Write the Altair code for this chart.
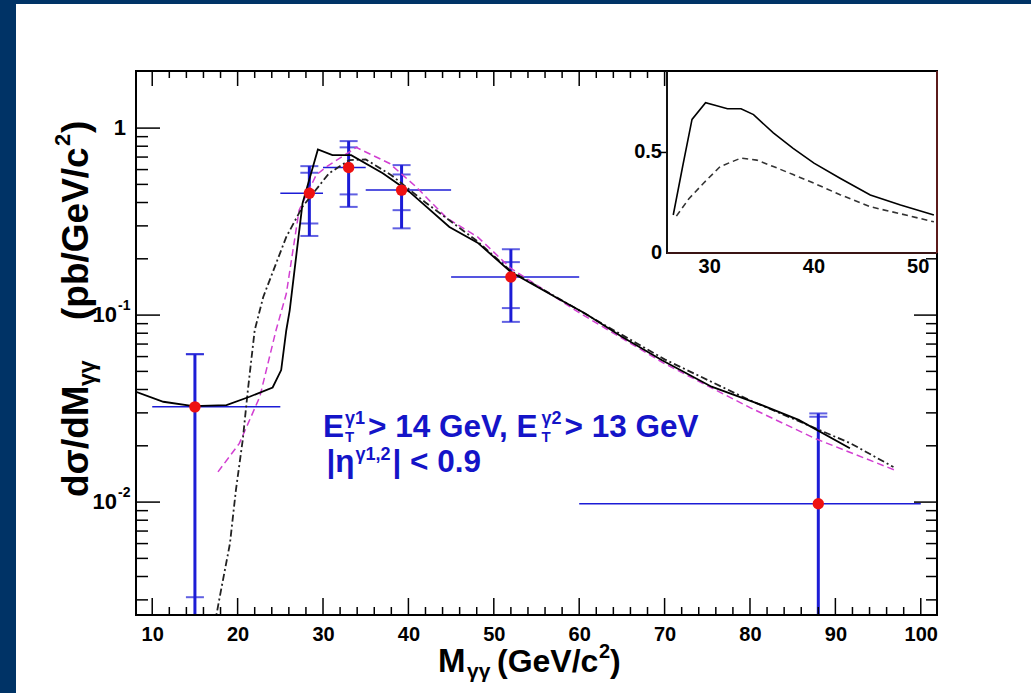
import altair as alt
import pandas as pd

# ---------------- data ----------------
pt_x = [15.0, 28.4, 33.0, 39.2, 52.0, 88.0]
pt_y = [0.0323, 0.448, 0.616, 0.466, 0.160, 0.0098]
bin_lo = [10.0, 25.0, 30.0, 35.0, 45.0, 60.0]
bin_hi = [25.0, 30.0, 35.0, 45.0, 60.0, 100.0]
tot_lo = [0.0015, 0.265, 0.379, 0.291, 0.092, 0.0015]
tot_hi = [0.0618, 0.626, 0.852, 0.634, 0.225, 0.0298]
stat_lo = [0.0031, 0.309, 0.442, 0.364, 0.109, 0.0015]
stat_hi = [0.0618, 0.577, 0.789, 0.565, 0.192, 0.0286]

nlo_x = [8.1, 11.3, 14.8, 18.7, 21.4, 24.1, 25.1, 25.7, 26.1, 27.6, 29.4, 31.1, 33.3,
         37.0, 40.1, 44.8, 48.1, 52.0, 57.2, 60.7, 65.0, 69.7, 75.5, 81.4, 85.7, 91.7]
nlo_y = [0.0389, 0.0344, 0.0326, 0.033, 0.0366, 0.041, 0.0508, 0.083, 0.106, 0.396, 0.769,
         0.717, 0.717, 0.573, 0.457, 0.296, 0.244, 0.170, 0.125, 0.102, 0.0766, 0.0574,
         0.0414, 0.0330, 0.0275, 0.0194]

mag_x = [17.7, 20.2, 22.6, 24.5, 25.7, 27.2, 29.2, 30.4, 33.9, 37.8, 40.9, 44.5, 48.1,
         52.0, 60.0, 70.0, 80.0, 87.6, 97.0]
mag_y = [0.0145, 0.0206, 0.0366, 0.083, 0.130, 0.364, 0.561, 0.621, 0.788, 0.647, 0.485,
         0.33, 0.262, 0.178, 0.103, 0.055, 0.032, 0.0219, 0.0148]

dd_x = [17.3, 17.9, 19.1, 19.8, 20.6, 21.2, 22.0, 23.0, 25.7, 27.6, 30.7, 33.1, 35.0,
        38.0, 42.0, 48.0, 52.0, 60.0, 70.0, 80.0, 91.8, 96.8]
dd_y = [0.0022, 0.0031, 0.006, 0.0116, 0.0215, 0.0397, 0.083, 0.125, 0.262, 0.38, 0.573,
        0.675, 0.68, 0.56, 0.40, 0.25, 0.172, 0.106, 0.058, 0.035, 0.0206, 0.0154]

ins_sol_x = [26.5, 27.4, 28.3, 29.6, 30.5, 31.7, 33.0, 34.2, 36.1, 38.0, 40.0, 42.5, 45.4, 48.3, 51.5]
ins_sol_y = [0.189, 0.43, 0.664, 0.747, 0.735, 0.717, 0.717, 0.688, 0.597, 0.52, 0.447,
             0.372, 0.2885, 0.2385, 0.1885]
ins_dash_x = [26.8, 28.0, 29.4, 31.0, 33.0, 34.5, 36.1, 38.0, 40.0, 42.5, 45.4, 48.3, 51.5]
ins_dash_y = [0.1835, 0.27, 0.347, 0.43, 0.472, 0.462, 0.43, 0.39, 0.347, 0.29, 0.23, 0.195, 0.155]

x_major = [10, 20, 30, 40, 50, 60, 70, 80, 90, 100]
x_minor = [12, 14, 16, 18, 22, 24, 26, 28, 32, 34, 36, 38, 42, 44, 46, 48, 52, 54, 56, 58,
           62, 64, 66, 68, 72, 74, 76, 78, 82, 84, 86, 88, 92, 94, 96, 98]
y_major = [0.01, 0.1, 1.0]
y_minor = [0.003, 0.004, 0.005, 0.006, 0.007, 0.008, 0.009,
           0.02, 0.03, 0.04, 0.05, 0.06, 0.07, 0.08, 0.09,
           0.2, 0.3, 0.4, 0.5, 0.6, 0.7, 0.8, 0.9]
y_lab_one = [1.0]
y_lab_pow = [0.1, 0.01]
y_lab_exp = ["-1", "-2"]
ins_x_ticks = [30, 40, 50]
ins_y_ticks = [0, 0.5]
ins_y_labels = ["0", "0.5"]

# ---------------- layout / style ----------------
W, H = 801, 544
PADL, PADT = 136, 71
FONT = "Liberation Sans"
BLUE = "#1c1cd6"
TXT = "#1414c8"
RED = "#ee1111"
X_DOM = [8.1, 101.9]
Y_DOM = [0.00249, 2.02]

xs = alt.Scale(domain=X_DOM, nice=False, zero=False)
ys = alt.Scale(type="log", domain=Y_DOM, nice=False)

x_axis = alt.Axis(values=x_major, format="d", labelFont=FONT, labelFontSize=20,
                  labelFontWeight="bold", labelColor="black", labelPadding=9,
                  ticks=False, domain=False, grid=False, title=None, zindex=1)


def X(f="x"):
    return alt.X(f"{f}:Q", scale=xs, axis=x_axis)


def Y(f="y"):
    return alt.Y(f"{f}:Q", scale=ys, axis=None)


one = pd.DataFrame({"a": [0]})
df_pts = pd.DataFrame({"x": pt_x, "y": pt_y, "xl": bin_lo, "xh": bin_hi,
                       "tl": tot_lo, "th": tot_hi, "sl": stat_lo, "sh": stat_hi})

bg = alt.Chart(one).mark_rect(color="white").encode(
    x=alt.value(16 - PADL), x2=alt.value(1031 - PADL), y=alt.value(4 - PADT),
    y2=alt.value(693 - PADT))

hbar = alt.Chart(df_pts).mark_rule(color=BLUE, strokeWidth=1.5, clip=True).encode(
    x=X("xl"), x2="xh:Q", y=Y("y"))
vbar = alt.Chart(df_pts).mark_rule(color=BLUE, strokeWidth=3, clip=True).encode(
    x=X("x"), y=Y("tl"), y2="th:Q")
caps = [alt.Chart(df_pts).mark_tick(orient="horizontal", size=18, thickness=2,
                                    color=BLUE, clip=True).encode(x=X("x"), y=Y(f))
        for f in ["tl", "th", "sl", "sh"]]

df_nlo = pd.DataFrame({"x": nlo_x, "y": nlo_y})
df_mag = pd.DataFrame({"x": mag_x, "y": mag_y})
df_dd = pd.DataFrame({"x": dd_x, "y": dd_y})

c_mag = alt.Chart(df_mag).mark_line(color="#d23fd2", strokeWidth=1.5, strokeDash=[7, 4],
                                    clip=True).encode(x=X(), y=Y())
c_dd = alt.Chart(df_dd).mark_line(color="#222222", strokeWidth=1.8, strokeDash=[7, 3, 2, 3],
                                  clip=True).encode(x=X(), y=Y())
c_nlo = alt.Chart(df_nlo).mark_line(color="black", strokeWidth=1.8, clip=True).encode(
    x=X(), y=Y())

pts = alt.Chart(df_pts).mark_circle(color=RED, size=130, opacity=1).encode(x=X(), y=Y())

dfxM = pd.DataFrame({"x": x_major})
dfxm = pd.DataFrame({"x": x_minor})
dfyM = pd.DataFrame({"y": y_major})
dfym = pd.DataFrame({"y": y_minor})
tk = dict(color="black", strokeWidth=1.5)
ticks = [
    alt.Chart(dfxM).mark_rule(**tk).encode(x=X(), y=alt.value(H), y2=alt.value(H - 17)),
    alt.Chart(dfxm).mark_rule(**tk).encode(x=X(), y=alt.value(H), y2=alt.value(H - 8)),
    alt.Chart(dfxM).mark_rule(**tk).encode(x=X(), y=alt.value(0), y2=alt.value(15)),
    alt.Chart(dfxm).mark_rule(**tk).encode(x=X(), y=alt.value(0), y2=alt.value(7)),
    alt.Chart(dfyM).mark_rule(**tk).encode(y=Y(), x=alt.value(0), x2=alt.value(24)),
    alt.Chart(dfym).mark_rule(**tk).encode(y=Y(), x=alt.value(0), x2=alt.value(12)),
    alt.Chart(dfyM).mark_rule(**tk).encode(y=Y(), x=alt.value(W), x2=alt.value(W - 23)),
    alt.Chart(dfym).mark_rule(**tk).encode(y=Y(), x=alt.value(W), x2=alt.value(W - 11)),
]

# y tick labels: "1", "10" with raised exponent
lab_kw = dict(font=FONT, fontWeight="bold", color="black")
ylabs = [
    alt.Chart(pd.DataFrame({"y": y_lab_one})).mark_text(
        text="1", align="right", baseline="middle", fontSize=22, **lab_kw).encode(
        y=Y(), x=alt.value(-10)),
    alt.Chart(pd.DataFrame({"y": y_lab_pow})).mark_text(
        text="10", align="right", baseline="middle", fontSize=22, **lab_kw).encode(
        y=Y(), x=alt.value(-19)),
    alt.Chart(pd.DataFrame({"y": y_lab_pow, "t": y_lab_exp})).mark_text(
        align="left", baseline="middle", fontSize=14, dy=-9, **lab_kw).encode(
        y=Y(), x=alt.value(-18), text="t:N"),
]


# axis titles as text pieces (page pixel positions converted to plot coordinates)
def ptxt(text, px, py, size, angle=0):
    kw = dict(text=text, align="left", baseline="alphabetic", fontSize=size,
              font=FONT, fontWeight="bold", color="black")
    if angle:
        kw["angle"] = angle
    return alt.Chart(one).mark_text(**kw).encode(
        x=alt.value(px - PADL), y=alt.value(py - PADT))


titles = [
    # x title: M_gg (GeV/c^2)
    ptxt("M", 438, 672, 33),
    ptxt("γγ", 467, 678, 21),
    ptxt("(GeV/c", 497, 672, 32),
    ptxt("2", 599, 658, 20),
    ptxt(")", 610, 672, 32),
    # y title: dsigma/dM_gg (pb/GeV/c^2), read bottom to top
    ptxt("dσ/dM", 88, 497, 37, 270),
    ptxt("γγ", 95, 386, 23, 270),
    ptxt("(pb/GeV/c", 88, 320, 37, 270),
    ptxt("2", 70, 146, 22, 270),
    ptxt(")", 88, 133, 37, 270),
]

# annotation (pieces for sub/superscripts)
ARIAL_B = {" ": .278, ">": .584, "<": .584, "G": .778, "e": .556, "V": .667, ",": .278,
           "E": .667, "T": .611, ".": .278, "|": .280, "γ": .556, "η": .611}


def tw(s, size):
    return sum(ARIAL_B.get(ch, .556) for ch in s) * size


FS, SS = 31.5, 18
ann1 = pd.DataFrame({"x": [30.0], "y": [0.02229]})
ann2 = pd.DataFrame({"x": [30.4], "y": [0.01446]})


def piece(df, text, dx, dy=0, size=FS):
    return alt.Chart(df).mark_text(text=text, align="left", baseline="alphabetic", dx=dx, dy=dy,
                                   font=FONT, fontSize=size, fontWeight="bold",
                                   color=TXT).encode(x=X(), y=Y())


ann = []
d = 0
ann.append(piece(ann1, "E", d))
d += tw("E", FS) + 1
ann.append(piece(ann1, "γ1", d, -13, SS))
ann.append(piece(ann1, "T", d, 5, 15))
d += tw("γ1", SS) + 3
s = "> 14 GeV, E"
ann.append(piece(ann1, s, d))
d += tw(s, FS) + 1
ann.append(piece(ann1, "γ2", d, -13, SS))
ann.append(piece(ann1, "T", d, 5, 15))
d += tw("γ2", SS) + 3
ann.append(piece(ann1, "> 13 GeV", d))
d = 0
ann.append(piece(ann2, "|η", d))
d += tw("|η", FS) + 1
ann.append(piece(ann2, "γ1,2", d, -12, SS))
d += tw("γ1,2", SS) + 2
ann.append(piece(ann2, "| < 0.9", d))

main = alt.layer(bg, hbar, vbar, *caps, c_mag, c_dd, c_nlo, pts, *ticks, *ylabs, *titles, *ann)

# ---------------- inset ----------------
IX0, IX1, IY1 = 531, 801, 182
ixs = alt.Scale(domain=[25.9, 51.8], range=[IX0, IX1], nice=False, zero=False)
iys = alt.Scale(domain=[0, 0.905], range=[IY1, 0], nice=False, zero=False)


def IX(f="x"):
    return alt.X(f"{f}:Q", scale=ixs, axis=None)


def IY(f="y"):
    return alt.Y(f"{f}:Q", scale=iys, axis=None)


ibg = alt.Chart(one).mark_rect(color="white").encode(
    x=alt.value(IX0), x2=alt.value(IX1), y=alt.value(0), y2=alt.value(IY1))
i_sol = alt.Chart(pd.DataFrame({"x": ins_sol_x, "y": ins_sol_y})).mark_line(
    color="black", strokeWidth=1.6).encode(x=IX(), y=IY())
i_dash = alt.Chart(pd.DataFrame({"x": ins_dash_x, "y": ins_dash_y})).mark_line(
    color="#333333", strokeWidth=1.6, strokeDash=[6, 4]).encode(x=IX(), y=IY())
i_xlab = alt.Chart(pd.DataFrame({"x": ins_x_ticks})).mark_text(
    font=FONT, fontSize=20, fontWeight="bold", color="black", baseline="middle",
    align="center").encode(x=IX(), y=alt.value(IY1 + 14), text="x:Q")
i_ylab = alt.Chart(pd.DataFrame({"y": ins_y_ticks, "t": ins_y_labels})).mark_text(
    font=FONT, fontSize=20, fontWeight="bold", color="black", baseline="middle",
    align="right").encode(y=IY(), x=alt.value(IX0 - 5), text="t:N")
i_ytick = alt.Chart(pd.DataFrame({"y": [0.5]})).mark_rule(color="black", strokeWidth=1.5).encode(
    y=IY(), x=alt.value(IX0 - 6), x2=alt.value(IX0))

inset = alt.layer(ibg, i_dash, i_sol, i_xlab, i_ylab, i_ytick)

frame = alt.Chart(one).mark_rect(fillOpacity=0, stroke="black", strokeWidth=2).encode(
    x=alt.value(0), x2=alt.value(W), y=alt.value(0), y2=alt.value(H))
i_left = alt.Chart(one).mark_rule(color="#111111", strokeWidth=2).encode(
    x=alt.value(IX0), y=alt.value(0), y2=alt.value(IY1 + 1))
i_bottom = alt.Chart(one).mark_rule(color="#3a1414", strokeWidth=2).encode(
    x=alt.value(IX0), x2=alt.value(IX1), y=alt.value(IY1))
i_right = alt.Chart(one).mark_rule(color="#7a2424", strokeWidth=1.5).encode(
    x=alt.value(IX1), y=alt.value(0), y2=alt.value(IY1))

chart = alt.layer(main, inset, frame, i_left, i_bottom, i_right).resolve_scale(
    x="independent", y="independent"
).properties(
    width=W, height=H,
    padding={"left": PADL, "top": PADT, "right": 94, "bottom": 78},
    autosize=alt.AutoSizeParams(type="none"),
    background="#003366",
).configure_view(strokeWidth=0)

chart.save("out.html", embed_options={"renderer": "svg", "actions": False})
